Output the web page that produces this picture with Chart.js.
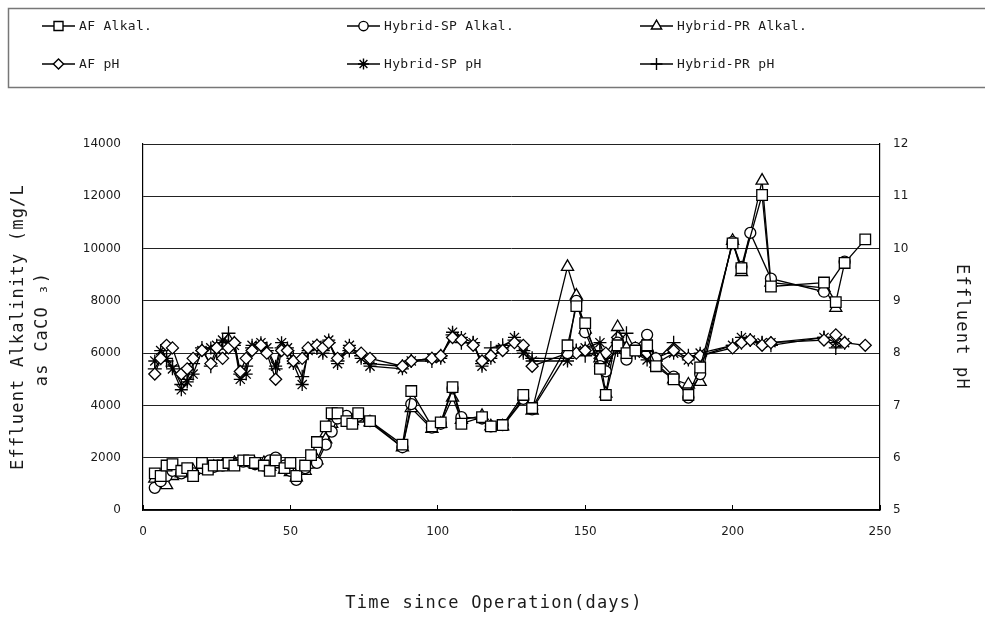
<!DOCTYPE html>
<html>
<head>
<meta charset="utf-8">
<script src="https://cdn.jsdelivr.net/npm/chart.js@4/dist/chart.umd.min.js"></script>
<style>
  html, body { margin: 0; padding: 0; background: #fff; }
  #wrap { width: 985px; height: 617px; }
</style>
</head>
<body>
<div id="wrap"><canvas id="c" width="985" height="617"></canvas></div>
<script>
// Sampling days for the alkalinity measurements
const alkDays = [
  4, 6, 8, 10, 13, 15, 17, 20, 22, 24,
  27, 29, 31, 34, 36, 38, 41, 43, 45, 48,
  50, 52, 55, 57, 59, 62, 64, 66, 69, 71,
  73, 77, 88, 91, 98, 101, 105, 108, 115, 118,
  122, 129, 132, 144, 147, 150, 155, 157, 161, 164,
  167, 171, 174, 180, 185, 189, 200, 203, 206, 210,
  213, 231, 235, 238, 245
];
// Effluent alkalinity, mg/L as CaCO3
const afAlk = [
  1400, 1300, 1700, 1750, 1500, 1600, 1300, 1800, 1550, 1700,
  1700, 1800, 1700, 1900, 1900, 1800, 1700, 1500, 1900, 1600,
  1800, 1300, 1700, 2100, 2600, 3200, 3700, 3700, 3400, 3300,
  3700, 3400, 2500, 4550, 3200, 3350, 4700, 3300, 3550, 3200,
  3250, 4400, 3900, 6300, 7800, 7150, 5400, 4400, 6300, 6000,
  6100, 6300, 5500, 5000, 4400, 5450, 10200, 9250, null, 12050,
  8550, 8700, 7950, 9450, 10350
];
const spAlk = [
  850, 1100, 1300, 1500, 1400, 1500, 1400, 1600, 1600, 1650,
  1700, 1750, 1750, 1850, 1850, 1750, 1700, 1900, 2000, 1700,
  1500, 1150, 1600, 1800, 1800, 2500, 3000, 3500, 3600, 3400,
  3600, 3400, 2400, 4050, 3150, 3300, 4650, 3550, 3500, 3200,
  3250, 4250, 3850, 6000, 8000, 6800, 5500, 5300, 6400, 5750,
  6200, 6700, 5800, 5100, 4300, 5200, 10250, 9300, 10600, null,
  8850, 8350, null, 9500, null
];
const prAlk = [
  1200, 1000, 950, 1300, 1400, 1500, 1500, 1550, 1600, 1650,
  1700, 1700, 1800, 1800, 1800, 1750, 1800, 1650, 1750, 1550,
  1450, 1250, 1500, 1750, 1900, 2700, 3300, 3600, 3500, 3400,
  3500, 3350, 2400, 3900, 3100, 3300, 4300, 3450, 3600, 3200,
  3200, 4200, 3800, 9300, 8200, 6900, 5800, 4450, 7000, 6200,
  6100, 6200, 5600, 5000, 4800, 4900, 10300, 9100, null, 12600,
  8700, 8500, 7730, null, null
];

// Sampling days for the pH measurements
const phDays = [
  4, 6, 8, 10, 13, 15, 17, 20, 23, 25,
  27, 29, 31, 33, 35, 37, 40, 42, 45, 47,
  49, 51, 54, 56, 59, 61, 63, 66, 70, 74,
  77, 88, 91, 98, 101, 105, 108, 112, 115, 118,
  122, 126, 129, 132, 144, 147, 150, 155, 157, 161,
  164, 167, 171, 174, 180, 185, 189, 200, 203, 206,
  210, 213, 231, 235, 238, 245
];
const afPh = [
  7.6, 7.9, 8.15, 8.1, 7.6, 7.7, 7.9, 8.05, 7.8, 8.1,
  7.9, 8.1, 8.2, 7.65, 7.9, 8.05, 8.15, 8.0, 7.5, 8.05,
  8.05, 7.85, 7.9, 8.1, 8.15, 8.1, 8.2, 7.9, 8.1, 8.0,
  7.9, 7.75, 7.85, 7.9, 7.95, 8.3, 8.25, 8.15, 7.85, 7.95,
  8.05, 8.2, 8.15, 7.75, 8.0, 8.0, 8.05, 7.9, 8.0, 8.3,
  8.05, 8.1, 8.0, 7.9, 8.05, 7.9, 7.95, 8.1, 8.2, 8.25,
  8.15, 8.2, 8.25, 8.35, 8.2, 8.15
];
const spPh = [
  7.85, 8.05, 7.9, 7.7, 7.3, 7.45, 7.6, 8.05, 8.1, 8.15,
  8.25, 8.2, 8.15, 7.5, 7.6, 8.15, 8.2, 8.1, 7.75, 8.2,
  8.1, 7.8, 7.4, 8.05, 8.15, 8.0, 8.25, 7.8, 8.15, 7.9,
  7.75, 7.7, 7.85, 7.9, 7.9, 8.4, 8.3, 8.2, 7.75, 7.9,
  8.1, 8.3, 8.0, 7.85, 7.85, 8.05, 8.1, 8.2, 7.85, 8.05,
  8.0, 8.0, 7.87, 7.8, 8.0, 7.87, 8.0, 8.15, 8.3, 8.25,
  8.2, 8.2, 8.3, 8.2, 8.2, null
];
const prPh = [
  7.7, 7.9, 7.85, 7.75, 7.4, 7.5, 7.8, 8.1, 7.75, 8.0,
  8.2, 8.38, 8.2, 7.6, 7.75, 8.1, 8.15, 8.05, 7.7, 8.1,
  8.05, 7.9, 7.55, 8.0, 8.1, 8.05, 8.2, 7.85, 8.05, 7.95,
  7.8, 7.75, 7.85, 7.85, 7.95, 8.35, 8.2, 8.2, 7.8, 8.1,
  8.15, 8.25, 8.05, 7.9, 7.9, 8.05, 7.95, 8.05, 7.9, 8.2,
  8.38, 8.05, 7.95, 7.85, 8.2, 7.95, 7.95, 8.15, 8.2, 8.25,
  8.2, 8.15, 8.3, 8.1, 8.2, null
];

// Axis tick values
const dayTicks = [0, 50, 100, 150, 200, 250];
const alkTicks = [0, 2000, 4000, 6000, 8000, 10000, 12000, 14000];
const phTicks = [5, 6, 7, 8, 9, 10, 11, 12];

const seriesLabels = ['AF Alkal.', 'Hybrid-SP Alkal.', 'Hybrid-PR Alkal.', 'AF pH', 'Hybrid-SP pH', 'Hybrid-PR pH'];

const FONT = "'DejaVu Sans', sans-serif";
const MONO = "'DejaVu Sans Mono', monospace";
const INK = '#1a1a1a';

function pts(days, vals) {
  return vals.map((v, i) => ({ x: days[i], y: v }));
}

function series(label, days, vals, axis, style, radius) {
  return {
    label,
    data: pts(days, vals),
    yAxisID: axis,
    borderColor: '#000',
    borderWidth: 1.3,
    pointStyle: style,
    pointRadius: radius,
    pointBorderWidth: 1.3,
    pointBorderColor: '#000',
    pointBackgroundColor: '#fff',
    backgroundColor: '#fff',
    fill: false,
    tension: 0,
    spanGaps: true
  };
}

const datasets = [
  series(seriesLabels[0], alkDays, afAlk, 'y', 'rect', 7.5),
  series(seriesLabels[1], alkDays, spAlk, 'y', 'circle', 5.5),
  series(seriesLabels[2], alkDays, prAlk, 'y', 'triangle', 7),
  series(seriesLabels[3], phDays, afPh, 'y2', 'rectRot', 6),
  series(seriesLabels[4], phDays, spPh, 'y2', 'star', 6.5),
  series(seriesLabels[5], phDays, prPh, 'y2', 'cross', 7)
];

// Boxed key above the plot plus the axis titles
const keyColumns = [42, 347, 640];
const keyRows = [26, 64];
const decorations = {
  id: 'decorations',
  afterDraw(chart) {
    const ctx = chart.ctx;
    const area = chart.chartArea;
    ctx.save();
    ctx.strokeStyle = '#777';
    ctx.lineWidth = 1.5;
    ctx.strokeRect(8.5, 8.5, 1000, 79);

    ctx.font = '13px ' + MONO;
    ctx.letterSpacing = '0.3px';
    ctx.textBaseline = 'middle';
    ctx.textAlign = 'left';
    chart.data.datasets.forEach((ds, i) => {
      const x0 = keyColumns[i % 3];
      const y = keyRows[Math.floor(i / 3)];
      ctx.strokeStyle = '#000';
      ctx.lineWidth = 1.5;
      ctx.beginPath();
      ctx.moveTo(x0, y);
      ctx.lineTo(x0 + 33, y);
      ctx.stroke();
      ctx.fillStyle = '#fff';
      ctx.lineWidth = 1.4;
      Chart.helpers.drawPoint(ctx, {
        pointStyle: ds.pointStyle, radius: ds.pointRadius * 0.85, rotation: 0, borderWidth: 1.4
      }, x0 + 16.5, y);
      ctx.fillStyle = INK;
      ctx.fillText(ds.label, x0 + 37, y + 1);
    });

    ctx.font = '17px ' + MONO;
    ctx.letterSpacing = '1.2px';
    ctx.fillStyle = INK;
    ctx.textAlign = 'center';
    const midY = (area.top + area.bottom) / 2;

    ctx.save();
    ctx.translate(19, midY);
    ctx.rotate(-Math.PI / 2);
    ctx.fillText('Effluent Alkalinity (mg/L', 0, 0);
    ctx.restore();

    ctx.save();
    ctx.translate(43, midY + 2);
    ctx.rotate(-Math.PI / 2);
    ctx.fillText('as CaCO \u2083)', 0, 0);
    ctx.restore();

    ctx.save();
    ctx.translate(961, midY);
    ctx.rotate(Math.PI / 2);
    ctx.fillText('Effluent pH', 0, 0);
    ctx.restore();

    ctx.fillText('Time since Operation(days)', 494, 604);
    ctx.restore();
  }
};

Chart.defaults.font.family = FONT;
Chart.defaults.color = INK;

const plain = (v) => String(v);

new Chart(document.getElementById('c'), {
  type: 'line',
  data: { datasets },
  options: {
    responsive: false,
    animation: false,
    events: [],
    layout: { padding: { top: 144, left: 0, right: 0, bottom: 0 } },
    plugins: {
      legend: { display: false },
      tooltip: { enabled: false }
    },
    scales: {
      x: {
        type: 'linear',
        min: 0, max: 250,
        afterBuildTicks: (s) => { s.ticks = dayTicks.map(v => ({ value: v })); },
        ticks: { font: { size: 12 }, padding: 20, color: INK, maxRotation: 0, callback: plain },
        grid: { drawOnChartArea: false, drawTicks: true, tickLength: -5, color: '#000', lineWidth: 1 },
        border: { color: '#000', width: 1.2 },
        afterFit: (s) => { s.height = 107; }
      },
      y: {
        type: 'linear',
        position: 'left',
        min: 0, max: 14000,
        afterBuildTicks: (s) => { s.ticks = alkTicks.map(v => ({ value: v })); },
        ticks: { font: { size: 12 }, padding: 22, color: INK, callback: plain },
        grid: { color: '#222', lineWidth: 1, drawTicks: false },
        border: { color: '#000', width: 1.2 },
        afterFit: (s) => { s.width = 143; }
      },
      y2: {
        type: 'linear',
        position: 'right',
        min: 5, max: 12,
        afterBuildTicks: (s) => { s.ticks = phTicks.map(v => ({ value: v })); },
        ticks: { font: { size: 12 }, padding: 13, color: INK, callback: plain },
        grid: { drawOnChartArea: false, drawTicks: false },
        border: { color: '#000', width: 1.2 },
        afterFit: (s) => { s.width = 105; }
      }
    }
  },
  plugins: [decorations]
});
</script>
</body>
</html>
